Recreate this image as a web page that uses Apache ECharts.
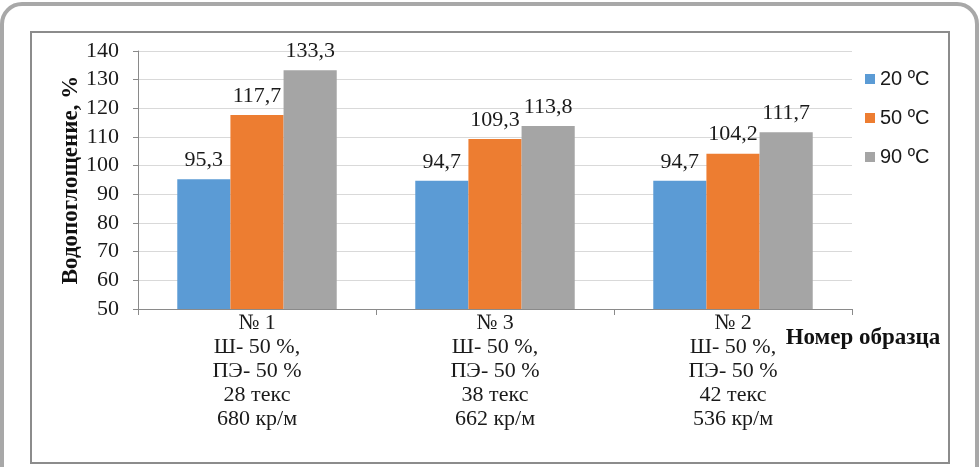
<!DOCTYPE html>
<html>
<head>
<meta charset="utf-8">
<script src="https://cdn.jsdelivr.net/npm/echarts@6/dist/echarts.min.js"></script>
<style>
  html, body { margin: 0; padding: 0; background: #ffffff; overflow: hidden; }
  #outer { position: absolute; left: 0; top: 2px; width: 979px; height: 540px; box-sizing: border-box;
           border: 4px solid #a8a8a8; border-radius: 22px; }
  #inner { position: absolute; left: 30px; top: 31px; width: 920px; height: 433px; box-sizing: border-box;
           border: 2px solid #8c8c8c; background: #fff; }
  #chart { position: absolute; left: 0; top: 0; width: 979px; height: 467px; }
</style>
</head>
<body>
<div id="outer"></div>
<div id="inner"></div>
<div id="chart"></div>
<script>
const categories = [
  '№ 1\nШ- 50 %,\nПЭ- 50 %\n28 текс\n680 кр/м',
  '№ 3\nШ- 50 %,\nПЭ- 50 %\n38 текс\n662 кр/м',
  '№ 2\nШ- 50 %,\nПЭ- 50 %\n42 текс\n536 кр/м'
];
const seriesNames = ['20 ºC', '50 ºC', '90 ºC'];
const values20 = [95.3, 94.7, 94.7];
const values50 = [117.7, 109.3, 104.2];
const values90 = [133.3, 113.8, 111.7];
const yMin = 50, yMax = 140, yStep = 10;
const xAxisTitle = 'Номер образца';
const yAxisTitle = 'Водопоглощение, %';

const colors = ['#5b9bd5', '#ed7d31', '#a5a5a5'];
const serif = 'Liberation Serif, Times New Roman, serif';

function mkSeries(name, data, color) {
  return {
    name: name, type: 'bar', data: data,
    barGap: '0%', barCategoryGap: '33%',
    itemStyle: { color: color },
    label: {
      show: true, position: 'top', distance: 8,
      fontFamily: serif, fontSize: 22, color: '#1a1a1a',
      formatter: p => String(p.value).replace('.', ',')
    }
  };
}

const chart = echarts.init(document.getElementById('chart'), null, { renderer: 'canvas' });
chart.setOption({
  animation: false,
  backgroundColor: 'transparent',
  grid: { left: 138, right: 127, top: 51, bottom: 158 },
  legend: {
    orient: 'vertical', left: 860, top: 64, itemGap: 19,
    itemWidth: 10, itemHeight: 10, icon: 'rect',
    textStyle: { fontFamily: 'Liberation Sans, Arial, sans-serif', fontSize: 20, lineHeight: 20, color: '#1a1a1a' },
    data: seriesNames
  },
  xAxis: {
    type: 'category', data: categories,
    name: xAxisTitle, nameLocation: 'end', nameGap: 11, nameMoveOverlap: false,
    nameTextStyle: { fontFamily: serif, fontSize: 23, fontWeight: 'bold', color: '#111',
                     align: 'center', verticalAlign: 'top', padding: [18, 0, 0, 0] },
    axisLine: { lineStyle: { color: '#8a8a8a', width: 1 } },
    axisTick: { show: true, length: 6, lineStyle: { color: '#8a8a8a' } },
    axisLabel: { margin: 2, fontFamily: serif, fontSize: 22, lineHeight: 24, color: '#1a1a1a', interval: 0 }
  },
  yAxis: {
    type: 'value', min: yMin, max: yMax, interval: yStep,
    name: yAxisTitle, nameLocation: 'middle', nameGap: 55, nameMoveOverlap: false,
    nameTextStyle: { fontFamily: serif, fontSize: 23, fontWeight: 'bold', color: '#111' },
    axisLine: { show: true, lineStyle: { color: '#8a8a8a', width: 1 } },
    axisTick: { show: true, length: 5, lineStyle: { color: '#8a8a8a' } },
    axisLabel: { margin: 19, fontFamily: serif, fontSize: 22, color: '#1a1a1a' },
    splitLine: { lineStyle: { color: '#d9d9d9', width: 1 } }
  },
  series: [
    mkSeries(seriesNames[0], values20, colors[0]),
    mkSeries(seriesNames[1], values50, colors[1]),
    mkSeries(seriesNames[2], values90, colors[2])
  ]
});
</script>
</body>
</html>
